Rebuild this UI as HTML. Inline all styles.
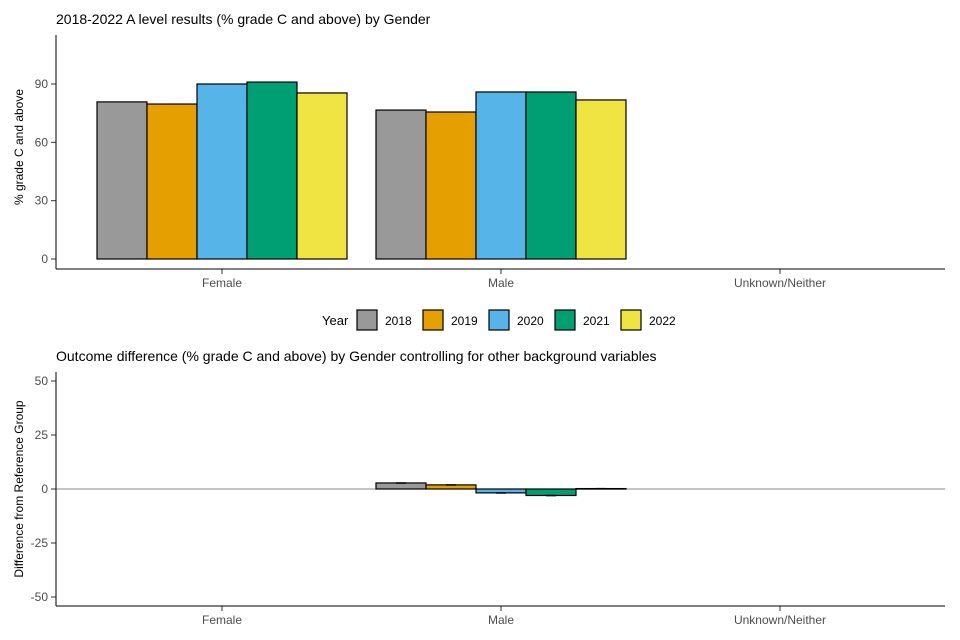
<!DOCTYPE html>
<html><head><meta charset="utf-8"><style>
body{margin:0;background:#fff}
svg{display:block;font-family:"Liberation Sans",Arial,sans-serif}
</style></head><body>
<svg id="c" width="960" height="640"></svg>
<script>
const groups=["Female","Male","Unknown/Neither"];
const years=["2018","2019","2020","2021","2022"];
const colors=["#999999","#E69F00","#56B4E9","#009E73","#F0E442"];
const topVals=[[80.8,79.7,90,91,85.4],[76.6,75.6,85.9,85.9,81.8],[null,null,null,null,null]];
const diffVals=[[null,null,null,null,null],[2.8,1.9,-1.8,-3,0.2],[null,null,null,null,null]];
const diffErr=[[0,0,0,0,0],[0.3,0.3,0.3,0.3,0.3],[0,0,0,0,0]];
const topTicks=[0,30,60,90];
const botTicks=[-50,-25,0,25,50];
const NS="http://www.w3.org/2000/svg";
const svg=document.getElementById('c');
function el(t,a,p){const e=document.createElementNS(NS,t);for(const k in a)e.setAttribute(k,a[k]);(p||svg).appendChild(e);return e;}
function tx(x,y,s,o){const e=el('text',Object.assign({x:x,y:y,'font-size':12,fill:'#000'},o||{}));e.textContent=s;return e;}
const L=56,R=945;
const xc=i=>222+i*279;
const bw=50;
const xb=(i,j)=>xc(i)-2.5*bw+j*bw;
// top panel
const yT=v=>259-v*1.9444;
let t=tx(56,24,"2018-2022 A level results (% grade C and above) by Gender",{'font-size':14});

topTicks.forEach(v=>{el('line',{x1:51,x2:56,y1:yT(v),y2:yT(v),stroke:'#333'});
 const l=tx(48,yT(v)+4,v,{'text-anchor':'end',fill:'#4d4d4d','font-size':12});
 });
groups.forEach((g,i)=>{topVals[i].forEach((v,j)=>{if(v==null)return;
 const r=el('rect',{x:xb(i,j),y:yT(v),width:bw,height:yT(0)-yT(v),fill:colors[j],stroke:'#000','stroke-width':1.2});
 
 });
 el('line',{x1:xc(i),x2:xc(i),y1:269,y2:274,stroke:'#333'});
 const l=tx(xc(i),287,g,{'text-anchor':'middle',fill:'#4d4d4d'});
 });
el('line',{x1:L,x2:L,y1:35,y2:269,stroke:'#000'});
el('line',{x1:L,x2:R,y1:269,y2:269,stroke:'#000'});
t=tx(0,0,"% grade C and above",{transform:'translate(23,147) rotate(-90)','text-anchor':'middle'});

// legend
t=tx(322,325,"Year",{'font-size':13});
years.forEach((y,j)=>{const x=357+j*66;
 const g=el('g',{});
 el('rect',{x:x,y:310,width:20,height:20,fill:colors[j],stroke:'#000','stroke-width':1.2},g);
 tx(x+28,325,y,{},).remove();
 const tt=el('text',{x:x+28,y:325,'font-size':12,fill:'#000'},g);tt.textContent=y;});
// bottom panel
const yB=v=>489-v*2.16;
t=tx(56,361,"Outcome difference (% grade C and above) by Gender controlling for other background variables",{'font-size':14});

el('line',{x1:L,x2:R,y1:yB(0),y2:yB(0),stroke:'#888','stroke-width':1});
botTicks.forEach(v=>{el('line',{x1:51,x2:56,y1:yB(v),y2:yB(v),stroke:'#333'});
 const l=tx(48,yB(v)+4,v,{'text-anchor':'end',fill:'#4d4d4d'});
 });
groups.forEach((g,i)=>{diffVals[i].forEach((v,j)=>{if(v==null)return;
 const r=el('rect',{x:xb(i,j),y:Math.min(yB(v),yB(0)),width:bw,height:Math.max(Math.abs(yB(v)-yB(0)),0.5),fill:colors[j],stroke:'#000','stroke-width':1.2});
 
 
 const e=diffErr[i][j],cx=xb(i,j)+bw/2;
 const eb=el('rect',{x:cx-5,y:yB(v+e),width:10,height:Math.max(yB(v-e)-yB(v+e),1.5),fill:'#000'});
 });
 el('line',{x1:xc(i),x2:xc(i),y1:606,y2:611,stroke:'#333'});
 const l=tx(xc(i),624,g,{'text-anchor':'middle',fill:'#4d4d4d'});
 });
el('line',{x1:L,x2:L,y1:372,y2:606,stroke:'#000'});
el('line',{x1:L,x2:R,y1:606,y2:606,stroke:'#000'});
t=tx(0,0,"Difference from Reference Group",{transform:'translate(23,489) rotate(-90)','text-anchor':'middle'});

</script>
</body></html>
